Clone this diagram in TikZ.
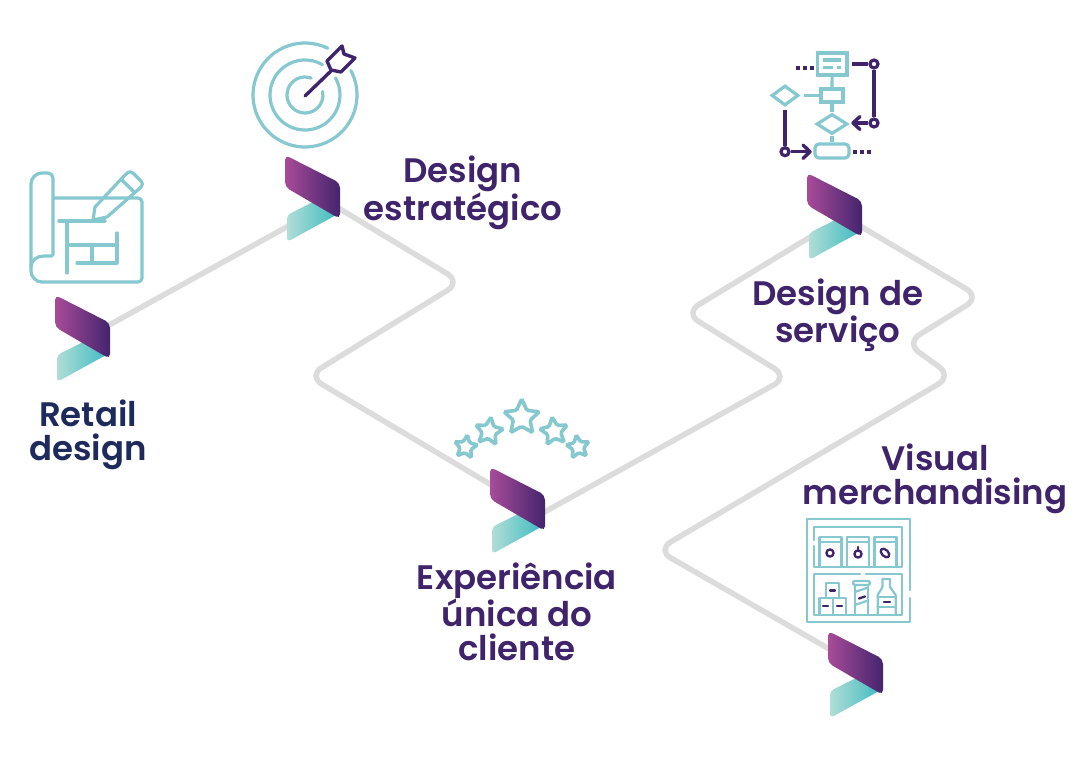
\documentclass[tikz,border=0pt]{standalone}
\usepackage{fontspec}
\setmainfont{Poppins}[UprightFont={* SemiBold}]
\usetikzlibrary{shapes.geometric}
\definecolor{ico}{HTML}{86C8CF}
\definecolor{pur}{HTML}{40246B}
\definecolor{nav}{HTML}{1F2A5C}
\definecolor{rd}{HTML}{DCDCDC}
\tikzset{
  x=1pt,y=-1pt,
  icon/.style={draw=ico,line width=3.2pt,line cap=round,line join=round},
  thin icon/.style={draw=ico,line width=2.2pt,line cap=round,line join=round},
  flow/.style={draw=ico,line width=3.2pt,line join=miter},
  dart/.style={draw=pur,line width=3.4pt,line cap=round,line join=round},
  mini/.style={draw=pur,line width=2.3pt,line cap=round,line join=round},
  road/.style={draw=rd,line width=5.5pt,rounded corners=16pt},
  lbl/.style={text=pur,align=center,inner sep=0pt,font=\fontsize{34}{34}\selectfont},
  starn/.style={star,star points=5,star point ratio=2.1,draw=ico,line width=3.6pt,inner sep=0pt,rounded corners=1.5pt},
  logo/.pic={
    \shade[left color={rgb,255:red,176;green,221;blue,214},right color={rgb,255:red,61;green,187;blue,193},rounded corners=4pt]
      (2,58) -- (30,44) -- (53,57) -- (2,85) -- cycle;
    \shade[left color={rgb,255:red,168;green,75;blue,152},right color={rgb,255:red,68;green,36;blue,110},rounded corners=5pt]
      (0,-2) -- (55,26) -- (55,62) -- (0,30) -- cycle;
  }
}
\begin{document}
\begin{tikzpicture}
\useasboundingbox (0,0) rectangle (1080,756);
% connector ends hidden below the logos
\coordinate (a1) at (82,340);
\coordinate (a2) at (312,213);
\coordinate (b2) at (330,203);
\coordinate (b3) at (510,496);
\coordinate (c3) at (530,520);
\coordinate (c4) at (825,228);
\coordinate (d4) at (845,217);
\coordinate (d5) at (845,658);
\draw[road] (a1) -- (a2);
\draw[road] (b2) -- (461,282) -- (308,376) -- (b3);
\draw[road] (c3) -- (788,377) -- (685,313) -- (c4);
\draw[road] (d4) -- (980,297) -- (906,343) -- (952,376) -- (657,550) -- (d5);
% logos
\pic (L1) at (55,297) {logo};
\pic (L2) at (285,157) {logo};
\pic (L3) at (490,469) {logo};
\pic (L4) at (807,175) {logo};
\pic (L5) at (828,633) {logo};
% labels
\node[lbl,text=nav] (t1) at (88,435) {Retail\\design};
\node[lbl] (t2) at (463,193) {Design\\estratégico};
\node[lbl] (t3) at (517,612) {Experiência\\única do\\cliente};
\node[lbl] (t4) at (838,315) {Design de\\serviço};
\node[lbl] (t5) at (935,479) {Visual\\merchandising};
% blueprint
\draw[icon] (53,255) -- (53,178) arc[start angle=0,end angle=-90,radius=5] -- (42,173) arc[start angle=-90,end angle=-180,radius=11] -- (31,271) arc[start angle=180,end angle=90,radius=11] -- (138,282) arc[start angle=90,end angle=0,radius=4] -- (142,202) arc[start angle=0,end angle=-90,radius=4] -- (53,198);
\draw[icon] (52,256) -- (44,256) .. controls (37,256) and (31,260) .. (31,267);
\draw[icon] (95,207) -- (125,175) .. controls (129,171) and (131,171) .. (134,174) -- (140,180) .. controls (143,183) and (143,185) .. (140,188) -- (107,217) -- (93,220) -- cycle;
\draw[icon] (122,180) -- (134,192);
\draw[icon] (59,221) -- (105,221);
\draw[icon] (67,221) -- (67,273);
\draw[icon] (67,245) -- (117,245);
\draw[icon] (117,233) -- (117,263) -- (77,263);
\draw[icon] (92,245) -- (92,263);
% target
\coordinate (tc) at (305,95);
\draw[icon] (tc) ++(-64:52) arc[start angle=-64,end angle=-388,radius=52];
\draw[icon] (tc) ++(-60:35) arc[start angle=-60,end angle=-389,radius=35];
\draw[icon] (tc) ++(-70:18) arc[start angle=-70,end angle=-371,radius=18];
\draw[dart] (tc) ++(0,1) -- (332,70);
\draw[dart] (327,61) -- (342,46) -- (344,54) -- (355,58) -- (341,72) -- (331,70) -- cycle;
% flowchart
\node[draw=ico,line width=3.2pt,minimum width=29.5pt,minimum height=22pt,inner sep=0pt] (f1) at (832.2,64) {};
\node[draw=ico,line width=3.2pt,minimum width=22pt,minimum height=13pt,inner sep=0pt] (f2) at (832,95.5) {};
\node[diamond,draw=ico,line width=3.2pt,minimum width=27pt,minimum height=20pt,inner sep=0pt] (f3) at (785,95.5) {};
\node[diamond,draw=ico,line width=3.2pt,minimum width=31pt,minimum height=20pt,inner sep=0pt] (f4) at (832,124) {};
\node[draw=ico,line width=3.2pt,rounded corners=4pt,minimum width=34pt,minimum height=14pt,inner sep=0pt] (f5) at (832,151) {};
\draw[flow] (f1) -- (f2);
\draw[flow] (f2) -- (f4);
\draw[flow] (f4) -- (f5);
\draw[flow] (f2.west) -- (804,95.5);
\draw[flow] (823,60) -- (841,60);
\draw[flow] (823,67.7) -- (833,67.7);
\draw[flow] (837,67.7) -- (841,67.7);
\draw[draw=pur,line width=3.6pt,dash pattern=on 3.5pt off 3.5pt] (796,67.7) -- (814,67.7);
\draw[draw=pur,line width=3.6pt,dash pattern=on 3.5pt off 3.5pt] (853,151.7) -- (871,151.7);
\node[circle,draw=pur,line width=3.2pt,minimum size=8pt,inner sep=0pt] (c1) at (874,64) {};
\node[circle,draw=pur,line width=3.2pt,minimum size=8pt,inner sep=0pt] (c2) at (874,123) {};
\node[circle,draw=pur,line width=3.2pt,minimum size=8pt,inner sep=0pt] (c3n) at (785,151.7) {};
\draw[dart,line cap=butt] (852,64) -- (c1);
\draw[dart,line cap=butt] (c1) -- (c2);
\draw[dart,line cap=butt] (c2) -- (853,123);
\draw[dart] (860,116.5) -- (853,123) -- (860,129.5);
\draw[dart,line cap=butt] (785,110) -- (c3n);
\draw[dart,line cap=butt] (c3n) -- (810,151.7);
\draw[dart] (803,145) -- (810,151.7) -- (803,158.5);
% stars
\node[starn,minimum size=37pt] (s1) at (521.7,417.5) {};
\node[starn,minimum size=29pt,rotate=-8] (s2) at (489,431.5) {};
\node[starn,minimum size=29pt,rotate=8] (s3) at (554,431.5) {};
\node[starn,minimum size=24pt,rotate=-8] (s4) at (465.7,447) {};
\node[starn,minimum size=24pt,rotate=8] (s5) at (578,447) {};
% shelf
\draw[thin icon] (910,590) -- (910,519) -- (807,519) -- (807,622) -- (910,622) -- (910,598);
\draw[thin icon] (814,540) -- (814,527) -- (902,527) -- (902,567) -- (814,567) -- (814,546);
\draw[thin icon] (860,574) -- (814,574) -- (814,615) -- (902,615) -- (902,574) -- (866,574);
\foreach \xa/\xb in {819.5/841.5,847/869,874.5/896.5}{
  \draw[thin icon] (\xa,567) -- (\xa,537) -- (\xb,537) -- (\xb,567);
  \draw[thin icon] (\xa,542) -- (\xb,542);
}
\draw[mini] (830,553) circle[radius=3.6];
\draw[mini] (858,554) circle[radius=3.6];
\draw[mini] (858,550) -- (858,547);
\draw[mini,rotate around={-45:(885,553)}] (885,553) ellipse[x radius=5.2,y radius=3.2];
\draw[thin icon] (826,598) -- (826,583) -- (839,583) -- (839,598);
\draw[thin icon] (819.5,615) -- (819.5,598) -- (846,598) -- (846,615);
\draw[thin icon] (833,598) -- (833,615);
\draw[mini] (830,590.5) -- (835,590.5);
\draw[mini] (823,606) -- (828,606);
\draw[mini] (837,606) -- (842,606);
\draw[thin icon] (855,585) -- (855,615);
\draw[thin icon] (868,585) -- (868,615);
\draw[thin icon,rounded corners=1.5pt] (853,581) -- (870,581) -- (870,585) -- (853,585) -- cycle;
\draw[thin icon] (855,592) -- (868,587.5);
\draw[thin icon] (855,605) -- (868,600.5);
\draw[mini] (859,598.5) -- (865,596.5);
\draw[thin icon] (882.5,579) -- (890,579) -- (890,587) -- (895.7,595) -- (895.7,615);
\draw[thin icon] (882.5,579) -- (882.5,587) -- (877.7,595) -- (877.7,615);
\draw[thin icon] (877.7,597) -- (895.7,597);
\draw[thin icon] (877.7,607) -- (895.7,607);
\draw[mini] (884,602) -- (890,602);
\end{tikzpicture}
\end{document}
